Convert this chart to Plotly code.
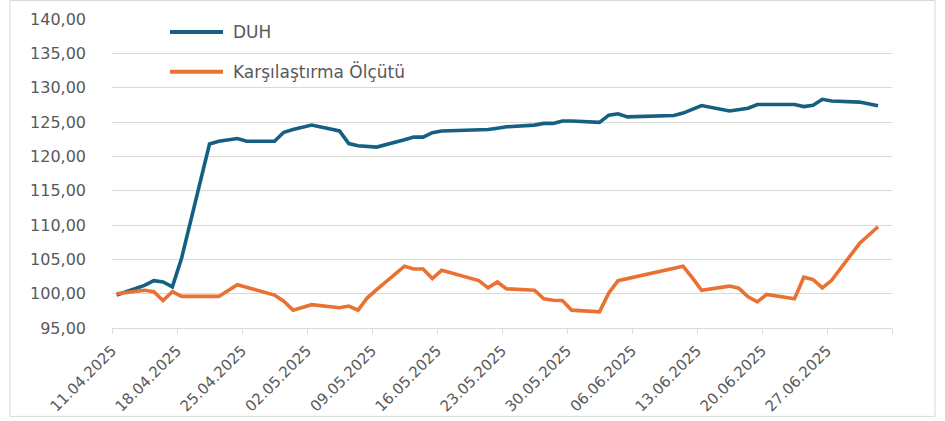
import pandas as pd
import plotly.graph_objects as go

# Trading days (Turkish market calendar) and index values
dates = [
    "2025-04-11", "2025-04-14", "2025-04-15", "2025-04-16", "2025-04-17", "2025-04-18",
    "2025-04-21", "2025-04-22", "2025-04-24", "2025-04-25", "2025-04-28", "2025-04-29",
    "2025-04-30", "2025-05-02", "2025-05-05", "2025-05-06", "2025-05-07", "2025-05-08",
    "2025-05-09", "2025-05-12", "2025-05-13", "2025-05-14", "2025-05-15", "2025-05-16",
    "2025-05-20", "2025-05-21", "2025-05-22", "2025-05-23", "2025-05-26", "2025-05-27",
    "2025-05-28", "2025-05-29", "2025-05-30", "2025-06-02", "2025-06-03", "2025-06-04",
    "2025-06-05", "2025-06-10", "2025-06-11", "2025-06-12", "2025-06-13", "2025-06-16",
    "2025-06-17", "2025-06-18", "2025-06-19", "2025-06-20", "2025-06-23", "2025-06-24",
    "2025-06-25", "2025-06-26", "2025-06-27", "2025-06-30", "2025-07-01", "2025-07-02",
]

duh = [
    99.8, 101.2, 101.9, 101.7, 101.0, 105.2,
    121.8, 122.2, 122.6, 122.2, 122.2, 123.5,
    123.9, 124.55, 123.7, 121.85, 121.55, 121.4,
    121.35, 122.4, 122.8, 122.8, 123.45, 123.7,
    123.85, 123.9, 124.1, 124.3, 124.55, 124.8,
    124.8, 125.15, 125.15, 124.95, 126.0, 126.2,
    125.75, 125.95, 126.3, 126.8, 127.4, 126.6,
    126.8, 127.0, 127.55, 127.55, 127.55, 127.25,
    127.45, 128.3, 128.05, 127.9, 127.65, 127.35,
]

benchmark = [
    100.0, 100.5, 100.3, 99.0, 100.3, 99.6,
    99.6, 99.6, 101.3, 100.9, 99.8, 98.9,
    97.6, 98.4, 97.95, 98.2, 97.6, 99.4,
    100.6, 104.0, 103.6, 103.6, 102.2, 103.4,
    101.9, 100.85, 101.7, 100.7, 100.5, 99.25,
    99.05, 99.0, 97.6, 97.35, 100.1, 101.9,
    102.2, 103.7, 104.0, 102.3, 100.5, 101.1,
    100.8, 99.55, 98.8, 99.9, 99.25, 102.4,
    102.05, 100.85, 101.95, 107.3, 108.5, 109.75,
]

series_names = ["DUH", "Karşılaştırma Ölçütü"]

tick_dates = [
    "2025-04-11", "2025-04-18", "2025-04-25", "2025-05-02", "2025-05-09", "2025-05-16",
    "2025-05-23", "2025-05-30", "2025-06-06", "2025-06-13", "2025-06-20", "2025-06-27",
    "2025-07-04",
]
tick_labels = [
    "11.04.2025", "18.04.2025", "25.04.2025", "02.05.2025", "09.05.2025", "16.05.2025",
    "23.05.2025", "30.05.2025", "06.06.2025", "13.06.2025", "20.06.2025", "27.06.2025",
    "",
]

y_ticks = [95, 100, 105, 110, 115, 120, 125, 130, 135, 140]

BLUE = "#156082"
ORANGE = "#E97132"
GRID = "#d9d9d9"
TEXT = "#595959"
FONT = "DejaVu Sans"

# points sit in the middle of each day slot
x = pd.to_datetime(dates) + pd.Timedelta(hours=12)

fig = go.Figure()
fig.add_trace(go.Scatter(x=x, y=duh, mode="lines", name=series_names[0],
                         line=dict(color=BLUE, width=3.6), showlegend=False))
fig.add_trace(go.Scatter(x=x, y=benchmark, mode="lines", name=series_names[1],
                         line=dict(color=ORANGE, width=3.6), showlegend=False))

# legend drawn inside the plot, top-left
legend_rows = [(0.958, BLUE, series_names[0]), (0.829, ORANGE, series_names[1])]
for yy, col, label in legend_rows:
    fig.add_shape(type="line", xref="paper", yref="paper",
                  x0=0.0744, x1=0.1423, y0=yy, y1=yy,
                  line=dict(color=col, width=4))
    fig.add_annotation(xref="paper", yref="paper", x=0.1526, y=yy, text=label,
                       showarrow=False, xanchor="left", yanchor="middle",
                       font=dict(family=FONT, size=17, color=TEXT))

# outer chart frame
fig.add_shape(type="rect", xref="paper", yref="paper",
              x0=-0.1308, x1=1.0551, y0=-0.2860, y1=1.0598,
              line=dict(color=GRID, width=1), fillcolor="rgba(0,0,0,0)", layer="below")

fig.update_layout(
    width=945, height=421,
    margin=dict(l=112, r=53, t=19, b=92.5),
    paper_bgcolor="white", plot_bgcolor="white",
    separators=",.",
    font=dict(family=FONT, color=TEXT),
)

fig.update_xaxes(
    type="date",
    range=[tick_dates[0], tick_dates[-1]],
    tickmode="array", tickvals=tick_dates, ticktext=tick_labels,
    tickangle=-45, tickfont=dict(family=FONT, size=15, color=TEXT),
    showgrid=False, zeroline=False,
    showline=True, linecolor=GRID, linewidth=1,
    ticks="outside", ticklen=5, tickcolor=GRID, tickwidth=1,
    ticklabelstandoff=2, automargin=False,
)

fig.update_yaxes(
    range=[95, 140],
    tickmode="array", tickvals=y_ticks, tickformat=".2f",
    tickfont=dict(family=FONT, size=16, color=TEXT),
    showgrid=True, gridcolor=GRID, gridwidth=1,
    zeroline=False, showline=False, ticks="",
    ticklabelstandoff=25, automargin=False,
)

fig.write_html("out.html")
